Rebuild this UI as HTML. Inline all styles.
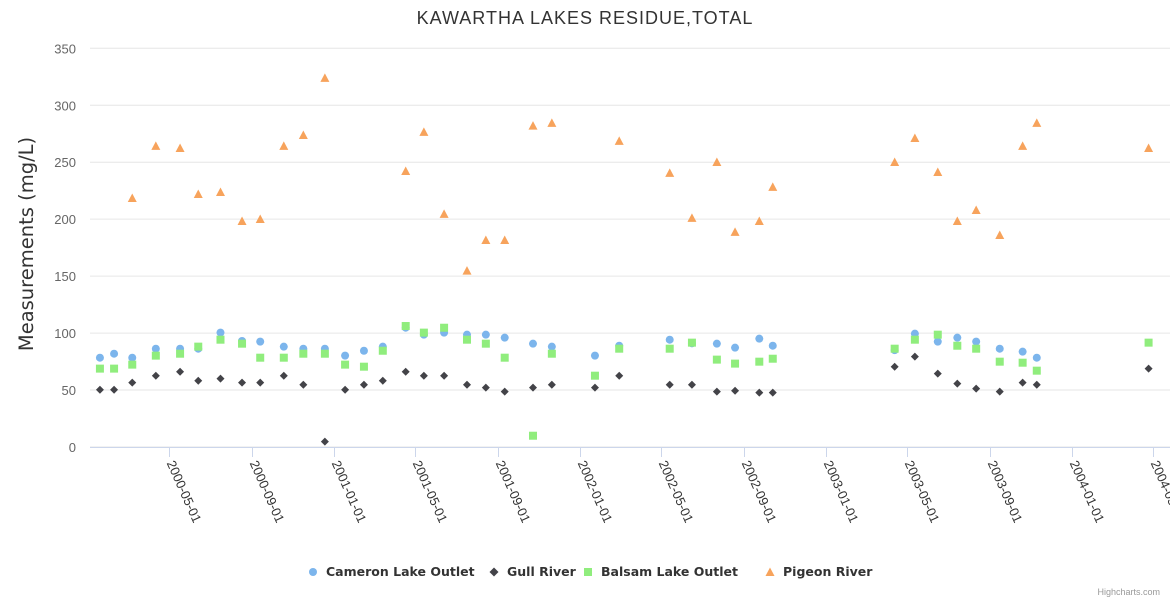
<!DOCTYPE html>
<html><head><meta charset="utf-8"><style>
body{margin:0;background:#fff;font-family:"Liberation Sans",sans-serif}
svg text{font-family:"Liberation Sans",sans-serif}
svg text.dv{font-family:"DejaVu Sans",sans-serif}
</style></head><body>
<svg id="c" width="1170" height="600" xmlns="http://www.w3.org/2000/svg">
<text x="585" y="24" text-anchor="middle" font-size="18" letter-spacing="1" fill="#333">KAWARTHA LAKES RESIDUE,TOTAL</text>
<text class="dv" transform="translate(33,244) rotate(-90)" text-anchor="middle" font-size="19.5" fill="#333">Measurements (mg/L)</text>
<g id="grid"></g><g id="xax"></g><g id="marks"></g>
<g>
<g><circle cx="313" cy="572" r="4" fill="#7cb5ec"/><text class="dv" x="326" y="576" font-size="12.5" font-weight="bold" fill="#333">Cameron Lake Outlet</text></g>
<g><path d="M494 567.5 L498.5 572 L494 576.5 L489.5 572Z" fill="#434348"/><text class="dv" x="507" y="576" font-size="12.5" font-weight="bold" fill="#333">Gull River</text></g>
<g><rect x="584" y="568" width="8" height="8" fill="#90ed7d"/><text class="dv" x="601" y="576" font-size="12.5" font-weight="bold" fill="#333">Balsam Lake Outlet</text></g>
<g><path d="M770 567.5 L774.5 576 L765.5 576Z" fill="#f7a35c"/><text class="dv" x="783" y="576" font-size="12.5" font-weight="bold" fill="#333">Pigeon River</text></g>
</g>
<text x="1160" y="595" text-anchor="end" font-size="9" fill="#999">Highcharts.com</text>
</svg>
<script>
const dates=["2000-01-19","2000-02-09","2000-03-07","2000-04-11","2000-05-17","2000-06-13","2000-07-16","2000-08-17","2000-09-13","2000-10-18","2000-11-16","2000-12-18","2001-01-17","2001-02-14","2001-03-14","2001-04-17","2001-05-14","2001-06-13","2001-07-17","2001-08-14","2001-09-11","2001-10-23","2001-11-20","2002-01-23","2002-02-28","2002-05-14","2002-06-16","2002-07-23","2002-08-19","2002-09-24","2002-10-14","2003-04-13","2003-05-13","2003-06-16","2003-07-15","2003-08-12","2003-09-16","2003-10-20","2003-11-10","2004-04-24"];
const cameron=[78.4,81.9,78.4,86.3,86.3,86.3,100.4,93.1,92.5,88.1,86.3,86.3,80.2,84.5,88.1,104.7,98.6,100.4,98.6,98.6,96.0,90.7,88.1,80.2,88.9,94.2,91,90.7,87.2,95.1,88.9,85,99.5,92.5,96.0,92.5,86.3,83.7,78.4,null];
const gull=[50.3,50.3,56.5,62.6,66.1,58.2,60.0,56.5,56.5,62.6,54.7,4.7,50.3,54.7,58.2,66.1,62.6,62.6,54.7,52.1,48.6,52.1,54.7,52.1,62.6,54.7,54.7,48.6,49.4,47.7,47.7,70.5,79.3,64.4,55.6,51.2,48.6,56.5,54.7,68.8];
const balsam=[68.8,68.8,72.3,80.2,81.9,88.1,94.2,90.7,78.4,78.4,81.9,81.9,72.3,70.5,84.5,106.2,100.4,104.7,94.2,90.7,78.4,9.9,81.9,62.6,86.3,86.3,91.6,76.7,73.2,74.9,77.5,86.3,94.2,98.6,88.9,86.3,74.9,74.0,67.0,91.6];
const pigeon=[null,null,218.6,264.3,262.5,222.1,223.9,198.4,200.2,264.3,273.9,324.0,null,null,null,242.3,276.6,204.6,154.8,181.7,181.7,282.1,284.5,null,268.7,240.6,201.1,250.2,188.8,198.4,228.3,250.2,271.3,241.4,198.4,208.1,186.1,264.3,284.5,262.5];
const yTicks=[0,50,100,150,200,250,300,350];
const xTicks=["2000-05-01","2000-09-01","2001-01-01","2001-05-01","2001-09-01","2002-01-01","2002-05-01","2002-09-01","2003-01-01","2003-05-01","2003-09-01","2004-01-01","2004-05-01"];
const NS="http://www.w3.org/2000/svg";
const t0=Date.UTC(2000,4,1),t1=Date.UTC(2004,4,1);
function ms(s){const p=s.split('-');return Date.UTC(+p[0],p[1]-1,+p[2]);}
function X(s){return 169.3+(ms(s)-t0)/(t1-t0)*(1153.3-169.3);}
function Y(v){return 447-v*(447-48.3)/350;}
function mk(tag,at,parent){const e=document.createElementNS(NS,tag);for(const k in at)e.setAttribute(k,at[k]);parent.appendChild(e);return e;}
const grid=document.getElementById('grid'),xax=document.getElementById('xax'),marks=document.getElementById('marks');
yTicks.forEach(v=>{
 const l=mk('line',{x1:90,x2:1170,y1:Y(v),y2:Y(v),stroke:'#e6e6e6','stroke-width':1},grid);
 
 
 const t=mk('text',{x:76,y:Y(v)+5,'text-anchor':'end','font-size':13,fill:'#666'},grid);
 t.textContent=v;
 
 
});
const ax=mk('line',{x1:90,x2:1170,y1:447.5,y2:447.5,stroke:'#ccd6eb'},xax);


xTicks.forEach(d=>{
 const x=Math.round(X(d))+0.5;
 const tk=mk('line',{x1:x,x2:x,y1:447,y2:457,stroke:'#ccd6eb'},xax);
 
 
 const t=mk('text',{transform:`translate(${x-3},463) rotate(66)`,'font-size':13,fill:'#333'},xax);
 t.textContent=d;
 
 
});
function draw(arr,name,fn){arr.forEach((v,i)=>{if(v===null)return;const e=fn(X(dates[i]),Y(v));
 
 });}
draw(cameron,'cameron',(x,y)=>mk('circle',{cx:x,cy:y,r:4,fill:'#7cb5ec'},marks));
draw(balsam,'balsam',(x,y)=>mk('rect',{x:x-4,y:y-4,width:8,height:8,fill:'#90ed7d'},marks));
draw(gull,'gull',(x,y)=>mk('path',{d:`M${x} ${y-4}L${x+4} ${y}L${x} ${y+4}L${x-4} ${y}Z`,fill:'#434348'},marks));
draw(pigeon,'pigeon',(x,y)=>mk('path',{d:`M${x} ${y-4.5}L${x+4.5} ${y+4}L${x-4.5} ${y+4}Z`,fill:'#f7a35c'},marks));
</script>
</body></html>
